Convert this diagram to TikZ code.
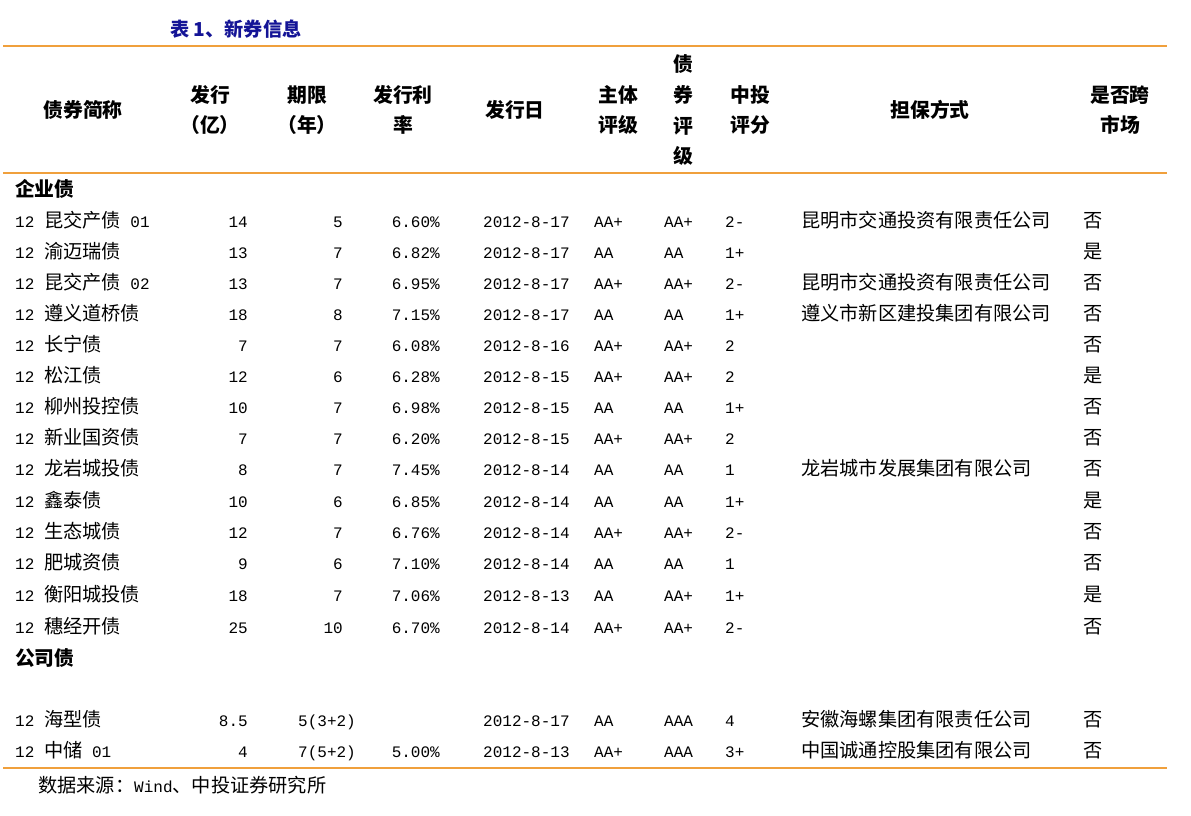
\documentclass[tikz,border=0pt]{standalone}
\usepackage{fontspec}
\setmainfont{Liberation Mono}
\newfontfamily\cf{Noto Sans CJK SC}[Scale=1.2]
\definecolor{org}{RGB}{240,160,60}
\definecolor{ttl}{RGB}{20,20,150}
\begin{document}
\begin{tikzpicture}[x=1pt,y=-1pt,inner sep=0pt,
  every node/.style={font=\fontsize{16}{18}\selectfont},
  W/.style={anchor=base west}, E/.style={anchor=base east}, C/.style={anchor=base},
  H/.style={anchor=base,font=\fontsize{16.5}{19}\selectfont\cf\bfseries},
  rule/.style={draw=org,line width=1.8pt}]
\useasboundingbox (0,0) rectangle (1191,816);
\node[anchor=base west,text=ttl,font=\fontsize{16}{19}\selectfont\cf\bfseries] (title) at (170,37) {表 1、新券信息};
\draw[rule] (3,46) -- (1167,46);
\draw[rule] (3,173) -- (1167,173);
\draw[rule] (3,768) -- (1167,768);
% header
\node[H] at (83,117) {债券简称};
\node[H] at (210,102) {发行};\node[H] at (210,132) {（亿）};
\node[H] at (307,102) {期限};\node[H] at (307,132) {（年）};
\node[H] at (403,102) {发行利};\node[H] at (403,132) {率};
\node[H] at (515,117) {发行日};
\node[H] at (618,102) {主体};\node[H] at (618,132) {评级};
\node[H] at (683,71) {债};\node[H] at (683,102) {券};\node[H] at (683,133) {评};\node[H] at (683,163) {级};
\node[H] at (750,102) {中投};\node[H] at (750,132) {评分};
\node[H] at (930,117) {担保方式};
\node[H] at (1120,102) {是否跨};\node[H] at (1120,132) {市场};
\node[H,anchor=base west] at (15,196) {企业债};
\node[H,anchor=base west] at (15,665) {公司债};
% names
\foreach \y/\a/\b in {227/昆交产债/\ 01,258/渝迈瑞债/,289/昆交产债/\ 02,320/遵义道桥债/,351/长宁债/,382/松江债/,413/柳州投控债/,444/新业国资债/,475/龙岩城投债/,507/鑫泰债/,538/生态城债/,569/肥城资债/,601/衡阳城投债/,633/穗经开债/,726/海型债/,757/中储/\ 01}
  \node[W] at (15,\y) {12\ {\cf\a}\b};
\foreach \y/\t in {227/14,258/13,289/13,320/18,351/7,382/12,413/10,444/7,475/8,507/10,538/12,569/9,601/18,633/25,726/8.5,757/4}
  \node[E] at (248,\y) {\t};
\foreach \y/\t in {227/5,258/7,289/7,320/8,351/7,382/6,413/7,444/7,475/7,507/6,538/7,569/6,601/7,633/10}
  \node[E] at (343,\y) {\t};
\node[W] at (298,726) {5(3+2)};\node[W] at (298,757) {7(5+2)};
\foreach \y/\t in {227/6.60,258/6.82,289/6.95,320/7.15,351/6.08,382/6.28,413/6.98,444/6.20,475/7.45,507/6.85,538/6.76,569/7.10,601/7.06,633/6.70,757/5.00}
  \node[E] at (440,\y) {\t\%};
\foreach \y/\t in {227/17,258/17,289/17,320/17,351/16,382/15,413/15,444/15,475/14,507/14,538/14,569/14,601/13,633/14,726/17,757/13}
  \node[W] at (483,\y) {2012-8-\t};
\foreach \y/\a/\b/\c in {227/AA+/AA+/2-,258/AA/AA/1+,289/AA+/AA+/2-,320/AA/AA/1+,351/AA+/AA+/2,382/AA+/AA+/2,413/AA/AA/1+,444/AA+/AA+/2,475/AA/AA/1,507/AA/AA/1+,538/AA+/AA+/2-,569/AA/AA/1,601/AA/AA+/1+,633/AA+/AA+/2-,726/AA/AAA/4,757/AA+/AAA/3+}
  {\node[W] at (594,\y) {\a};\node[W] at (664,\y) {\b};\node[W] at (725,\y) {\c};}
\foreach \y/\t in {227/昆明市交通投资有限责任公司,289/昆明市交通投资有限责任公司,320/遵义市新区建投集团有限公司,475/龙岩城市发展集团有限公司,726/安徽海螺集团有限责任公司,757/中国诚通控股集团有限公司}
  \node[W,font=\fontsize{16}{18}\selectfont\cf] at (801,\y) {\t};
\foreach \y/\t in {227/否,258/是,289/否,320/否,351/否,382/是,413/否,444/否,475/否,507/是,538/否,569/否,601/是,633/否,726/否,757/否}
  \node[W,font=\fontsize{16}{18}\selectfont\cf] at (1083,\y) {\t};
\node[W] (src) at (38,792) {{\cf 数据来源：}Wind{\cf 、中投证券研究所}};
\end{tikzpicture}
\end{document}
